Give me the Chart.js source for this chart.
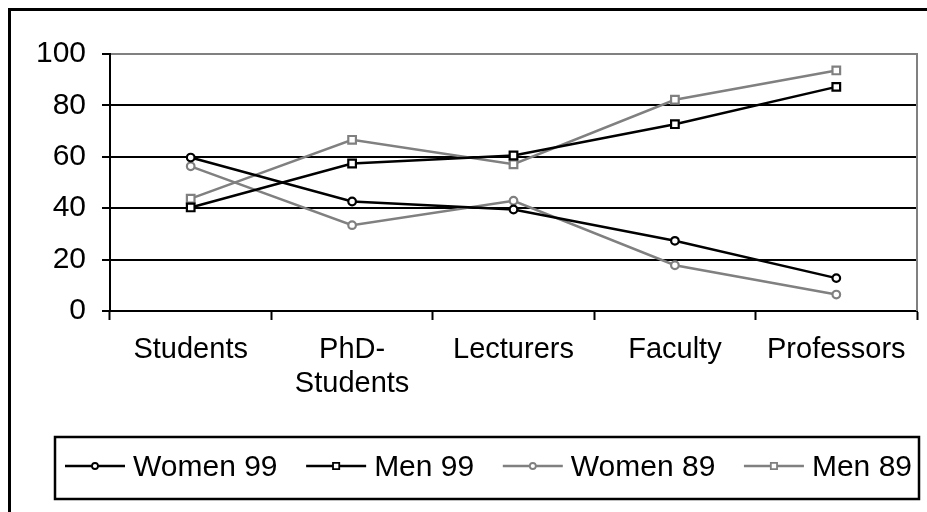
<!DOCTYPE html>
<html>
<head>
<meta charset="utf-8">
<script src="https://cdn.jsdelivr.net/npm/chart.js@4/dist/chart.umd.min.js"></script>
<style>
  html, body { margin: 0; padding: 0; background: #ffffff; }
  #wrap { position: relative; width: 927px; height: 512px; }
</style>
</head>
<body>
<div id="wrap"><canvas id="chart" width="927" height="512"></canvas></div>
<script>
// Share of women and men at each academic level, 1989 vs 1999 (%)
const categories = ['Students', ['PhD-', 'Students'], 'Lecturers', 'Faculty', 'Professors'];
const women99 = [59.7, 42.6, 39.5, 27.3, 12.8];
const men99   = [40.3, 57.4, 60.5, 72.7, 87.2];
const women89 = [56.3, 33.4, 42.9, 17.8, 6.4];
const men89   = [43.7, 66.6, 57.1, 82.2, 93.6];
const yTicks  = [0, 20, 40, 60, 80, 100];

const BLACK = '#000000';
const GREY = '#808080';
const FONT = 'Liberation Sans, Arial, sans-serif';

function series(label, data, color, style) {
  const square = style === 'rect';
  return {
    label: label,
    data: data,
    borderColor: color,
    backgroundColor: '#ffffff',
    borderWidth: 2.5,
    pointStyle: style,
    pointRadius: square ? 5.4 : 3.8,
    pointBorderWidth: 2.2,
    pointBorderColor: color,
    pointBackgroundColor: '#ffffff',
    tension: 0,
    fill: false
  };
}

// Frame around the whole figure and the grey right edge of the plot
const framePlugin = {
  id: 'frame',
  beforeDraw(chart) {
    const ctx = chart.ctx;
    ctx.save();
    ctx.fillStyle = '#ffffff';
    ctx.fillRect(0, 0, chart.width, chart.height);
    ctx.strokeStyle = BLACK;
    ctx.lineWidth = 3;
    ctx.strokeRect(9.5, 9.5, chart.width + 20, chart.height + 20);
    ctx.restore();
  },
  afterDatasetsDraw(chart) {
    const a = chart.chartArea;
    const ctx = chart.ctx;
    ctx.save();
    ctx.strokeStyle = GREY;
    ctx.lineWidth = 2;
    ctx.beginPath();
    ctx.moveTo(a.right, a.top - 1);
    ctx.lineTo(a.right, a.bottom);
    ctx.stroke();
    ctx.restore();
  }
};

// Boxed legend below the chart, one row
const boxLegendPlugin = {
  id: 'boxLegend',
  afterDraw(chart) {
    const ctx = chart.ctx;
    const box = { left: 55, top: 437, right: 919, bottom: 499 };
    ctx.save();
    ctx.strokeStyle = BLACK;
    ctx.lineWidth = 2.5;
    ctx.strokeRect(box.left, box.top, box.right - box.left, box.bottom - box.top);

    ctx.font = '30px ' + FONT;
    ctx.textBaseline = 'alphabetic';
    const swatch = 60, textGap = 8;
    const inner = { left: box.left + 10, right: box.right - 7 };
    const items = chart.data.datasets.map(ds => ({ ds, w: ctx.measureText(ds.label).width }));
    const used = items.reduce((s, it) => s + swatch + textGap + it.w, 0);
    const itemGap = (inner.right - inner.left - used) / (items.length - 1);
    let x = inner.left;
    const yMid = 466;
    items.forEach(it => {
      const ds = it.ds;
      ctx.strokeStyle = ds.borderColor;
      ctx.lineWidth = 2.5;
      ctx.beginPath();
      ctx.moveTo(x, yMid);
      ctx.lineTo(x + swatch, yMid);
      ctx.stroke();
      ctx.fillStyle = '#ffffff';
      ctx.strokeStyle = ds.borderColor;
      ctx.lineWidth = 1.8;
      Chart.helpers.drawPoint(ctx, {
        pointStyle: ds.pointStyle,
        radius: ds.pointStyle === 'rect' ? 4.4 : 3,
        borderWidth: 1.8,
        rotation: 0
      }, x + swatch / 2, yMid);
      ctx.fillStyle = BLACK;
      ctx.fillText(ds.label, x + swatch + textGap, yMid + 10);
      x += swatch + textGap + it.w + itemGap;
    });
    ctx.restore();
  }
};

new Chart(document.getElementById('chart'), {
  type: 'line',
  data: {
    labels: categories,
    datasets: [
      series('Women 99', women99, BLACK, 'circle'),
      series('Men 99', men99, BLACK, 'rect'),
      series('Women 89', women89, GREY, 'circle'),
      series('Men 89', men89, GREY, 'rect')
    ]
  },
  options: {
    responsive: false,
    animation: false,
    layout: { padding: { left: 0, top: 54, right: 10, bottom: 0 } },
    plugins: {
      legend: { display: false },
      tooltip: { enabled: false }
    },
    scales: {
      x: {
        offset: true,
        grid: {
          offset: true,
          drawOnChartArea: false,
          drawTicks: true,
          tickLength: 9,
          tickWidth: 2,
          tickColor: BLACK
        },
        border: { display: true, color: BLACK, width: 2 },
        ticks: {
          color: BLACK,
          padding: 13,
          maxRotation: 0,
          autoSkip: false,
          font: { family: FONT, size: 29, lineHeight: 1.17 }
        },
        afterFit(scale) { scale.height = 201; }
      },
      y: {
        min: 0,
        max: 100,
        afterBuildTicks(scale) { scale.ticks = yTicks.map(v => ({ value: v })); },
        grid: {
          color: ctx => (ctx.tick && ctx.tick.value === 100 ? GREY : BLACK),
          lineWidth: 2,
          tickLength: 8,
          tickWidth: 2,
          tickColor: BLACK
        },
        border: { display: true, color: BLACK, width: 2 },
        ticks: {
          color: BLACK,
          padding: 16,
          font: { family: FONT, size: 30 }
        },
        afterFit(scale) { scale.width = 110; }
      }
    }
  },
  plugins: [framePlugin, boxLegendPlugin]
});
</script>
</body>
</html>
